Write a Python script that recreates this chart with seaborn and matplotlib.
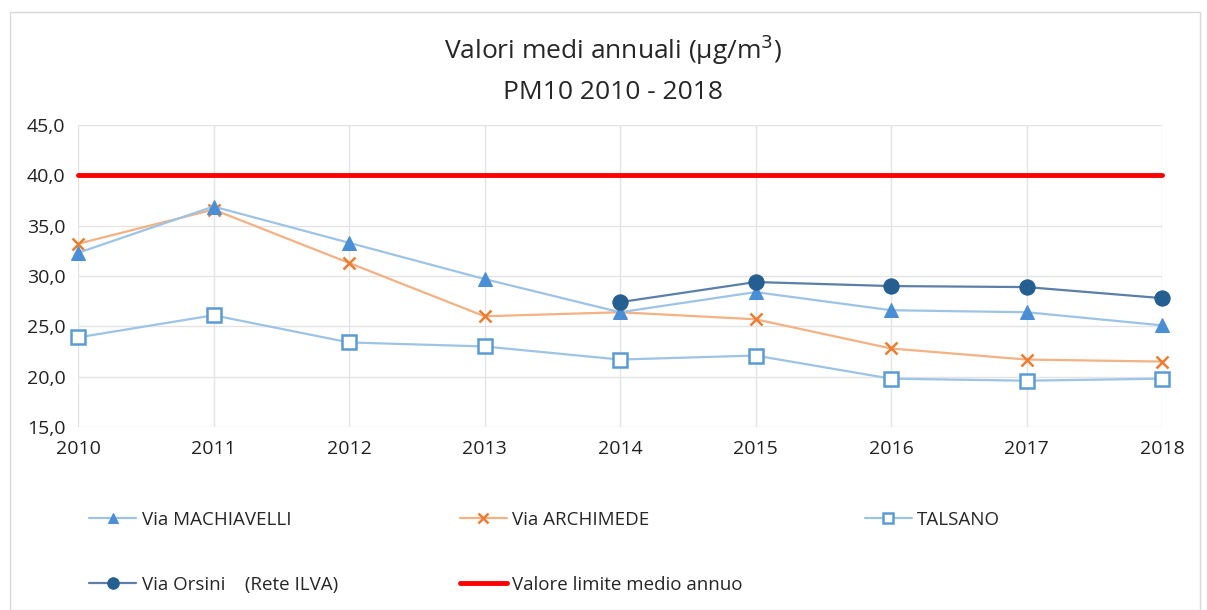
import numpy as np
import pandas as pd
import matplotlib
matplotlib.use("Agg")
import matplotlib.pyplot as plt
import seaborn as sb
from matplotlib.patches import Rectangle
from matplotlib.ticker import FuncFormatter

years = [2010, 2011, 2012, 2013, 2014, 2015, 2016, 2017, 2018]
machiavelli = [32.3, 36.9, 33.3, 29.7, 26.4, 28.4, 26.6, 26.4, 25.1]
archimede = [33.2, 36.6, 31.3, 26.0, 26.4, 25.7, 22.8, 21.7, 21.5]
talsano = [23.9, 26.1, 23.4, 23.0, 21.7, 22.1, 19.8, 19.6, 19.8]
orsini = [np.nan, np.nan, np.nan, np.nan, 27.4, 29.4, 29.0, 28.9, 27.8]
limite = [40.0] * 9

names = ['Via MACHIAVELLI', 'Via ARCHIMEDE', 'TALSANO',
         'Via Orsini    (Rete ILVA)', 'Valore limite medio annuo']

sb.set_style("white")
plt.rcParams['font.family'] = ['Open Sans', 'DejaVu Sans']

fig = plt.figure(figsize=(12.07, 6.10), dpi=100)
ax = fig.add_axes([78/1207, 1-427/610, (1162-78)/1207, (427-125)/610])

df = pd.DataFrame({'anno': years, 'mach': machiavelli, 'arch': archimede,
                   'tals': talsano, 'ors': orsini, 'lim': limite})

h = {}
h['lim'] = sb.lineplot(data=df, x='anno', y='lim', ax=ax, color='#ff0000', lw=3.5).lines[-1]
h['tals'] = sb.lineplot(data=df, x='anno', y='tals', ax=ax, color='#9dc3e6', lw=1.6,
                        marker='s', markersize=10, markerfacecolor='white',
                        markeredgewidth=1.8, markeredgecolor='#5b9bd5').lines[-1]
h['arch'] = sb.lineplot(data=df, x='anno', y='arch', ax=ax, color='#f4b183', lw=1.6,
                        marker='x', markersize=9, markeredgewidth=1.8,
                        markeredgecolor='#ed7d31').lines[-1]
h['mach'] = sb.lineplot(data=df, x='anno', y='mach', ax=ax, color='#9dc3e6', lw=1.6,
                        marker='^', markersize=10, markerfacecolor='#4a8ed6',
                        markeredgecolor='#4a8ed6').lines[-1]
h['ors'] = sb.lineplot(data=df.dropna(), x='anno', y='ors', ax=ax, color='#5b7fa8', lw=1.6,
                       marker='o', markersize=11, markerfacecolor='#255e91',
                       markeredgecolor='#255e91').lines[-1]
for ln in ax.lines:
    ln.set_clip_on(False)

ax.set_xlim(2010, 2018)
ax.set_ylim(15, 45)
ax.set_xticks(years)
ax.set_yticks(np.arange(15, 46, 5))
ax.yaxis.set_major_formatter(FuncFormatter(lambda v, p: f"{v:.1f}".replace('.', ',')))
ax.grid(True, color='#e4e4e4', lw=1)
for s in ax.spines.values():
    s.set_visible(False)
ax.tick_params(axis='both', length=0, labelsize=14, colors='#222222', pad=9)
ax.set_xlabel('')
ax.set_ylabel('')

fig.text(0.508, 0.918, 'Valori medi annuali (µg/m$^3$)', ha='center', va='center', fontsize=19)
fig.text(0.508, 0.849, 'PM10 2010 - 2018', ha='center', va='center', fontsize=19)

order = ['mach', 'ors', 'arch', 'lim', 'tals']
labels = {'mach': names[0], 'arch': names[1], 'tals': names[2], 'ors': names[3], 'lim': names[4]}
fig.legend([h[k] for k in order], [labels[k] for k in order], ncol=3,
           loc='upper left', bbox_to_anchor=(0.06, 0.19), frameon=False,
           fontsize=13.5, handlelength=2.5, columnspacing=6.5, labelspacing=2.5,
           handletextpad=0.3, markerscale=0.75)

fig.patches.append(Rectangle((10/1207, 0), 1190/1207, 1-12/610, transform=fig.transFigure,
                             fill=False, edgecolor='#d9d9d9', lw=1))

fig.savefig('out.png', dpi=100)
